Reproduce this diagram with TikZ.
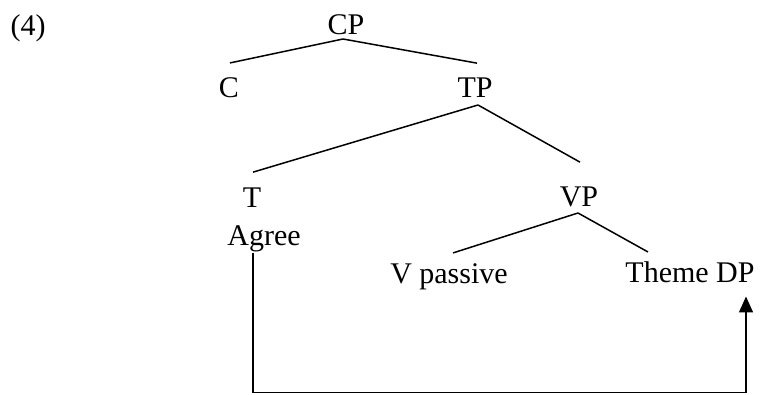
\documentclass[tikz,border=0pt]{standalone}
\usepackage{fontspec}
\setmainfont{Liberation Serif}
\usetikzlibrary{arrows.meta}

\begin{document}
\begin{tikzpicture}[
    x=1pt, y=1pt,
    cat/.style={inner sep=0pt, anchor=base, font=\fontsize{30}{36}\selectfont},
    branch/.style={line width=1.5pt},
    agree/.style={line width=1.5pt, -{Triangle[length=16pt,width=14pt]}}
]
    \useasboundingbox (0,0) rectangle (771,394);

    % Example number
    \node[cat] (ex) at (28,358) {(4)};

    % Tree nodes
    \node[cat] (CP) at (346,359) {CP};
    \node[cat] (C) at (229,296) {C};
    \node[cat] (TP) at (475,296) {TP};
    \node[cat] (T) at (252,186) {T};
    \node[cat] (Agree) at (264,148) {Agree};
    \node[cat] (VP) at (579,187) {VP};
    \node[cat] (Vpass) at (449,111) {V passive};
    \node[cat] (ThemeDP) at (690,112) {Theme DP};

    % Branches
    \draw[branch] ([xshift=-3pt,yshift=-4pt]CP.base) -- ([xshift=1pt,yshift=15pt]C.north);
    \draw[branch] ([xshift=-3pt,yshift=-4pt]CP.base) -- ([xshift=2pt,yshift=15pt]TP.north);
    \draw[branch] ([xshift=3pt,yshift=-7pt]TP.base) -- ([xshift=1pt,yshift=16pt]T.north);
    \draw[branch] ([xshift=3pt,yshift=-7pt]TP.base) -- ([xshift=1pt,yshift=25pt]VP.north);
    \draw[branch] ([xshift=-1pt,yshift=-6pt]VP.base) -- ([xshift=4pt,yshift=10pt]Vpass.north);
    \draw[branch] ([xshift=-1pt,yshift=-6pt]VP.base) -- ([xshift=-42pt,yshift=9pt]ThemeDP.north);

    % Agree relation
    \coordinate (low) at (253,1.5);
    \draw[agree] ([xshift=-11pt]Agree.south) -- (low) -| ([xshift=56pt,yshift=-14pt]ThemeDP.south);
\end{tikzpicture}
\end{document}
